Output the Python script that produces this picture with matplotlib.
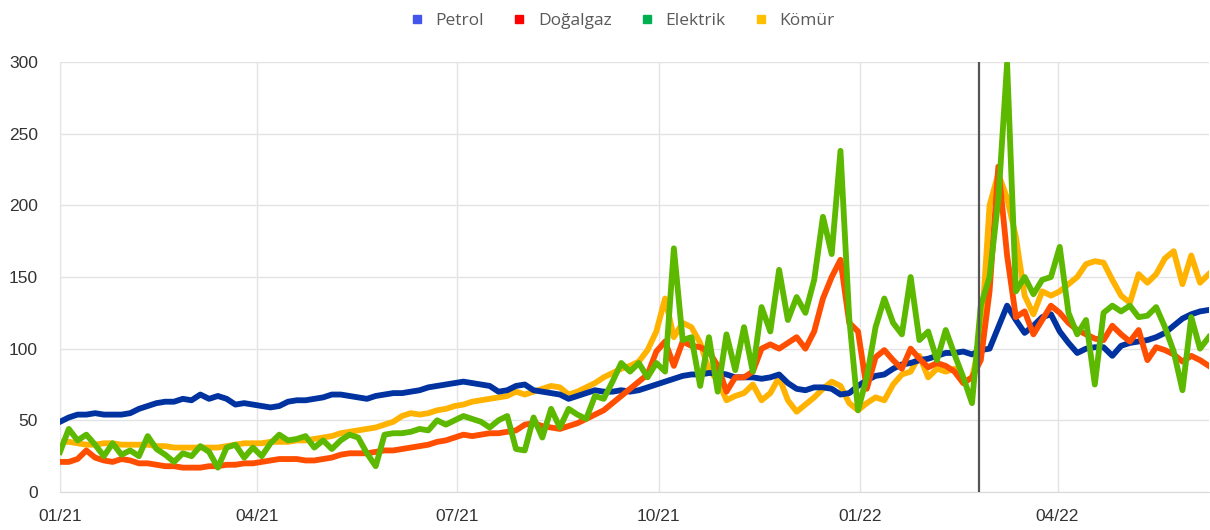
import numpy as np
import pandas as pd
import matplotlib
matplotlib.use('Agg')
import matplotlib.pyplot as plt
import matplotlib.dates as mdates
from matplotlib.lines import Line2D

# 4 günlük aralıklarla okunan değerler (01.01.2021 - 09.06.2022)
dates = pd.date_range('2021-01-01', periods=132, freq='4D')

petrol = [49, 52, 54, 54, 55, 54, 54, 54, 55, 58, 60, 62, 63, 63, 65, 64, 68, 65, 67, 65,
          61, 62, 61, 60, 59, 60, 63, 64, 64, 65, 66, 68, 68, 67, 66, 65, 67, 68, 69, 69,
          70, 71, 73, 74, 75, 76, 77, 76, 75, 74, 70, 71, 74, 75, 71, 70, 69, 68, 65, 67,
          69, 71, 70, 70, 71, 70, 71, 73, 75, 77, 79, 81, 82, 82, 83, 83, 82, 80, 80, 80,
          79, 80, 82, 76, 72, 71, 73, 73, 72, 68, 69, 74, 78, 81, 82, 86, 89, 90, 92, 93,
          95, 97, 97, 98, 96, 99, 100, 115, 130, 120, 111, 116, 122, 124, 112, 104, 97, 100, 101, 101,
          95, 102, 104, 105, 106, 108, 111, 116, 121, 124, 126, 127]

dogalgaz = [21, 21, 23, 29, 24, 22, 21, 23, 22, 20, 20, 19, 18, 18, 17, 17, 17, 18, 18, 19,
            19, 20, 20, 21, 22, 23, 23, 23, 22, 22, 23, 24, 26, 27, 27, 27, 28, 29, 29, 30,
            31, 32, 33, 35, 36, 38, 40, 39, 40, 41, 41, 42, 43, 47, 48, 46, 45, 44, 46, 48,
            51, 54, 57, 62, 67, 72, 77, 82, 98, 105, 88, 105, 102, 101, 98, 88, 70, 80, 80, 84,
            100, 103, 100, 104, 108, 100, 112, 135, 150, 162, 118, 112, 72, 94, 99, 92, 86, 100, 93, 87,
            90, 88, 84, 76, 80, 92, 140, 227, 165, 122, 126, 110, 120, 130, 125, 118, 113, 110, 107, 106,
            116, 110, 105, 113, 92, 101, 99, 96, 91, 95, 92, 88]

elektrik = [28, 44, 36, 40, 33, 25, 34, 26, 29, 25, 39, 30, 26, 21, 27, 25, 32, 28, 17, 31,
            33, 24, 31, 25, 34, 40, 36, 37, 39, 31, 36, 30, 36, 40, 38, 27, 18, 40, 41, 41,
            42, 44, 43, 50, 47, 50, 53, 51, 49, 45, 50, 53, 30, 29, 52, 38, 58, 45, 58, 54,
            51, 67, 65, 77, 90, 84, 90, 80, 90, 84, 170, 106, 108, 74, 108, 70, 110, 85, 115, 84,
            129, 112, 155, 120, 136, 125, 148, 192, 166, 238, 121, 57, 80, 115, 135, 118, 110, 150, 106, 112,
            92, 113, 96, 80, 62, 130, 150, 204, 299, 140, 150, 138, 148, 150, 171, 125, 110, 120, 75, 125,
            130, 126, 130, 122, 123, 129, 115, 98, 71, 122, 100, 108]

komur = [35, 35, 34, 33, 33, 34, 34, 33, 33, 33, 33, 32, 32, 31, 31, 31, 31, 31, 31, 32,
         33, 34, 34, 34, 35, 35, 35, 36, 36, 37, 38, 39, 41, 42, 43, 44, 45, 47, 49, 53,
         55, 54, 55, 57, 58, 60, 61, 63, 64, 65, 66, 67, 70, 68, 70, 72, 74, 73, 68, 70,
         73, 76, 80, 83, 86, 88, 91, 99, 112, 135, 108, 118, 115, 104, 85, 78, 64, 67, 69, 75,
         64, 69, 80, 64, 56, 61, 66, 72, 77, 74, 62, 57, 62, 66, 64, 75, 82, 84, 95, 80,
         86, 84, 86, 76, 80, 105, 200, 222, 205, 178, 137, 124, 140, 137, 140, 145, 150, 159, 161, 160,
         148, 137, 132, 152, 146, 152, 163, 168, 145, 165, 146, 152]

labels = ['Petrol', 'Doğalgaz', 'Elektrik', 'Kömür']
line_colors = ['#0033A0', '#FF4E00', '#5DB800', '#FFB300']
legend_colors = ['#4455EE', '#FF0000', '#00B050', '#FFC000']
war_date = pd.Timestamp('2022-02-24')

plt.rcParams['font.family'] = ['Liberation Sans', 'DejaVu Sans']

fig = plt.figure(figsize=(12.1, 5.3), dpi=100)
ax = fig.add_axes([0.0496, 0.0717, 0.9494, 0.8113])

series = {'Petrol': petrol, 'Doğalgaz': dogalgaz, 'Elektrik': elektrik, 'Kömür': komur}
zorders = {'Kömür': 2, 'Petrol': 3, 'Doğalgaz': 4, 'Elektrik': 5}
for name, color in zip(labels, line_colors):
    ax.plot(dates, series[name], color=color, lw=4.2, solid_joinstyle='round',
            zorder=zorders[name])

ax.axvline(war_date, color='#555555', lw=1.6, zorder=6)

ax.set_ylim(0, 300)
ax.set_yticks(np.arange(0, 301, 50))
ax.set_xlim(pd.Timestamp('2021-01-01'), pd.Timestamp('2022-06-09'))
ax.set_xticks(pd.to_datetime(['2021-01-01', '2021-04-01', '2021-07-01',
                              '2021-10-01', '2022-01-01', '2022-04-01']))
ax.xaxis.set_major_formatter(mdates.DateFormatter('%m/%y'))

ax.grid(True, color='#E3E3E3', lw=1)
ax.set_axisbelow(True)
for side in ['top', 'right']:
    ax.spines[side].set_visible(False)
ax.spines['left'].set_color('#E3E3E3')
ax.spines['bottom'].set_color('#D9D9D9')
ax.tick_params(length=0, labelsize=12.5, colors='#333333')
ax.tick_params(axis='x', pad=12)
ax.tick_params(axis='y', pad=16)

handles = [Line2D([], [], marker='s', ls='none', color=c, markersize=6) for c in legend_colors]
fig.legend(handles, labels, loc='upper center', bbox_to_anchor=(0.51, 1.005), ncol=4,
           frameon=False, handletextpad=0.1, columnspacing=1.0,
           prop={'family': 'Open Sans', 'size': 12.5}, labelcolor='#595959')

plt.savefig('out.png', dpi=100)
